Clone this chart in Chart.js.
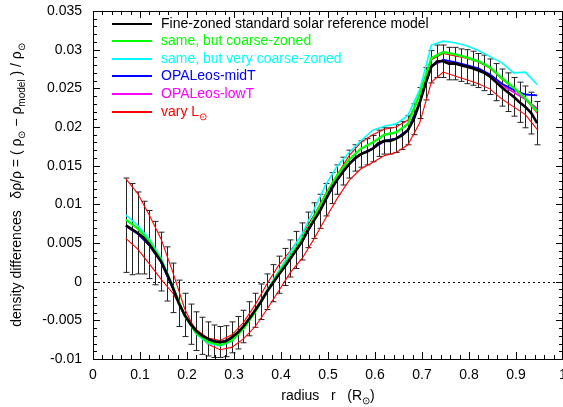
<!DOCTYPE html>
<html>
<head>
<meta charset="utf-8">
<script src="https://cdn.jsdelivr.net/npm/chart.js@4.4.0/dist/chart.umd.min.js"></script>
<style>
html, body { margin: 0; padding: 0; overflow: hidden; background: #fff; }
#wrap { width: 566px; height: 407px; }
</style>
</head>
<body>
<div id="wrap"><canvas id="myChart"></canvas></div>
<script>
// radius grid of the reference model (with error bars)
const rFine = [0.07, 0.0825, 0.095, 0.1075, 0.12, 0.1325, 0.145, 0.1575, 0.17, 0.1825,
  0.195, 0.2075, 0.22, 0.2325, 0.245, 0.2575, 0.27, 0.2825, 0.295, 0.3075,
  0.32, 0.3325, 0.345, 0.3575, 0.37, 0.3825, 0.395, 0.4075, 0.42, 0.4325,
  0.445, 0.4575, 0.47, 0.4825, 0.495, 0.5075, 0.52, 0.5325, 0.545, 0.5575,
  0.57, 0.5825, 0.595, 0.6075, 0.62, 0.6325, 0.645, 0.6575, 0.67, 0.6825,
  0.695, 0.7075, 0.72, 0.7325, 0.745, 0.7575, 0.77, 0.7825, 0.795, 0.8075,
  0.82, 0.8325, 0.845, 0.8575, 0.87, 0.8825, 0.895, 0.9075, 0.92, 0.9325, 0.945];

const fineModel = [0.0073, 0.0068, 0.0063, 0.0057, 0.0048, 0.0037, 0.0026, 0.0010, -0.0008, -0.0028,
  -0.0043, -0.0055, -0.0064, -0.0070, -0.0074, -0.0077, -0.0078, -0.0077, -0.0072, -0.0066,
  -0.0058, -0.0048, -0.0037, -0.0026, -0.0013, -0.0002, 0.0009, 0.0019, 0.0030, 0.0041,
  0.0052, 0.0067, 0.0079, 0.0091, 0.0106, 0.0121, 0.0132, 0.0143, 0.0152, 0.0160,
  0.0165, 0.0168, 0.0172, 0.0179, 0.0182, 0.0182, 0.0185, 0.0189, 0.0196, 0.0210,
  0.0231, 0.0256, 0.0278, 0.0285, 0.0285, 0.0282, 0.0282, 0.0280, 0.0278, 0.0276,
  0.0273, 0.0270, 0.0265, 0.0258, 0.0251, 0.0245, 0.0239, 0.0232, 0.0226, 0.0218, 0.0205];

const fineErr = [0.0061, 0.0059, 0.0053, 0.0047, 0.0044, 0.0041, 0.0038, 0.0035, 0.0032, 0.0030,
  0.0028, 0.0026, 0.0025, 0.0024, 0.0022, 0.0021, 0.0020, 0.0020, 0.0020, 0.0021,
  0.0021, 0.0022, 0.0022, 0.0023, 0.0023, 0.0024, 0.0024, 0.0024, 0.0024, 0.0024,
  0.0024, 0.0023, 0.0023, 0.0022, 0.0021, 0.0020, 0.0019, 0.0018, 0.0018, 0.0017,
  0.0017, 0.0017, 0.0017, 0.0017, 0.0017, 0.0017, 0.0018, 0.0018, 0.0019, 0.0020,
  0.0020, 0.0021, 0.0021, 0.0021, 0.0021, 0.0021, 0.0021, 0.0021, 0.0022, 0.0022,
  0.0022, 0.0023, 0.0023, 0.0024, 0.0024, 0.0025, 0.0025, 0.0026, 0.0027, 0.0027, 0.0028];

// coarser radius grid for the comparison models
const rCoarse = [0.07, 0.095, 0.12, 0.145, 0.17, 0.195, 0.22, 0.245, 0.27, 0.295,
  0.32, 0.345, 0.37, 0.395, 0.42, 0.445, 0.47, 0.495, 0.52, 0.545,
  0.57, 0.595, 0.62, 0.645, 0.67, 0.695, 0.72, 0.745, 0.77, 0.795,
  0.82, 0.845, 0.87, 0.895, 0.92, 0.945];

const coarseZoned = [0.0080, 0.0069, 0.0052, 0.0028, -0.0007, -0.0044, -0.0067, -0.0078, -0.0082, -0.0076,
  -0.0061, -0.0039, -0.0013, 0.0011, 0.0033, 0.0056, 0.0083, 0.0112, 0.0138, 0.0158,
  0.0172, 0.0180, 0.0190, 0.0193, 0.0204, 0.0242, 0.0289, 0.0297, 0.0294, 0.0290,
  0.0285, 0.0277, 0.0263, 0.0251, 0.0237, 0.0220];

const veryCoarseZoned = [0.0086, 0.0073, 0.0055, 0.0030, -0.0006, -0.0044, -0.0068, -0.0080, -0.0083, -0.0077,
  -0.0061, -0.0038, -0.0011, 0.0014, 0.0038, 0.0062, 0.0093, 0.0125, 0.0150, 0.0167,
  0.0182, 0.0196, 0.0201, 0.0204, 0.0215, 0.0248, 0.0306, 0.0311, 0.0309, 0.0305,
  0.0299, 0.0291, 0.0283, 0.0270, 0.0271, 0.0255];

const opalMidT = [0.0072, 0.0062, 0.0047, 0.0025, -0.0009, -0.0044, -0.0065, -0.0075, -0.0079, -0.0073,
  -0.0058, -0.0037, -0.0013, 0.0009, 0.0030, 0.0052, 0.0079, 0.0106, 0.0132, 0.0152,
  0.0165, 0.0172, 0.0182, 0.0185, 0.0196, 0.0232, 0.0279, 0.0287, 0.0284, 0.0280,
  0.0276, 0.0268, 0.0256, 0.0248, 0.0242, 0.0241];

const opalLowT = [0.0072, 0.0062, 0.0047, 0.0025, -0.0009, -0.0044, -0.0065, -0.0075, -0.0079, -0.0073,
  -0.0058, -0.0037, -0.0013, 0.0009, 0.0030, 0.0052, 0.0079, 0.0106, 0.0132, 0.0152,
  0.0165, 0.0172, 0.0182, 0.0185, 0.0196, 0.0232, 0.0279, 0.0286, 0.0283, 0.0279,
  0.0275, 0.0267, 0.0254, 0.0245, 0.0236, 0.0224];

const varyL_a = [0.0133, 0.0114, 0.0086, 0.0055, 0.0012, -0.0035, -0.0066, -0.0081, -0.0088, -0.0085,
  -0.0074, -0.0058, -0.0036, -0.0012, 0.0012, 0.0030, 0.0055, 0.0082, 0.0108, 0.0131,
  0.0146, 0.0154, 0.0163, 0.0167, 0.0177, 0.0205, 0.0258, 0.0271, 0.0266, 0.0261,
  0.0256, 0.0249, 0.0236, 0.0226, 0.0216, 0.0197];

const varyL_b = [0.0056, 0.0042, 0.0023, 0.0003, -0.0015, -0.0042, -0.0062, -0.0073, -0.0076, -0.0069,
  -0.0053, -0.0030, -0.0003, 0.0021, 0.0040, 0.0061, 0.0086, 0.0114, 0.0139, 0.0163,
  0.0180, 0.0190, 0.0197, 0.0200, 0.0209, 0.0240, 0.0287, 0.0295, 0.0292, 0.0289,
  0.0284, 0.0276, 0.0262, 0.0250, 0.0236, 0.0218];

const xTickLabels = ['0', '0.1', '0.2', '0.3', '0.4', '0.5', '0.6', '0.7', '0.8', '0.9', '1'];
const yTickLabels = ['-0.01', '-0.005', '0', '0.005', '0.01', '0.015', '0.02', '0.025', '0.03', '0.035'];

const seriesLabels = ['Fine-zoned standard solar reference model', 'same, but coarse-zoned',
  'same, but very coarse-zoned', 'OPALeos-midT', 'OPALeos-lowT', 'vary L'];

const FONT = '"Liberation Sans", Arial, Helvetica, sans-serif';

function pts(xs, ys) {
  return xs.map((x, i) => ({ x: x, y: ys[i] }));
}

// width of text with subscripts: parts = [[text, isSub], ...]
function richWidth(ctx, parts) {
  let total = 0;
  parts.forEach(p => {
    ctx.font = (p[1] ? 10 : 14) + 'px ' + FONT;
    total += ctx.measureText(p[0]).width;
  });
  return total;
}
function drawRich(ctx, parts, x, y, color, centered) {
  const w = richWidth(ctx, parts);
  let cx = centered ? x - w / 2 : x;
  ctx.fillStyle = color;
  ctx.textBaseline = 'middle';
  ctx.textAlign = 'left';
  parts.forEach(p => {
    ctx.font = (p[1] ? 10 : 14) + 'px ' + FONT;
    ctx.fillText(p[0], cx, p[1] ? y + 5 : y);
    cx += ctx.measureText(p[0]).width;
  });
}

const errorBars = {
  id: 'errorBars',
  beforeDatasetsDraw(chart) {
    const { ctx, scales: { x, y } } = chart;
    ctx.save();
    ctx.strokeStyle = '#222';
    ctx.lineWidth = 1;
    rFine.forEach((r, i) => {
      const px = Math.round(x.getPixelForValue(r)) + 0.5;
      const top = y.getPixelForValue(fineModel[i] + fineErr[i]);
      const bot = y.getPixelForValue(fineModel[i] - fineErr[i]);
      ctx.beginPath();
      ctx.moveTo(px, top); ctx.lineTo(px, bot);
      ctx.moveTo(px - 3, top); ctx.lineTo(px + 3, top);
      ctx.moveTo(px - 3, bot); ctx.lineTo(px + 3, bot);
      ctx.stroke();
    });
    ctx.restore();
  }
};

const frame = {
  id: 'frame',
  beforeDatasetsDraw(chart) {
    const { ctx, chartArea: a, scales: { y } } = chart;
    ctx.save();
    // dotted zero line
    const y0 = Math.round(y.getPixelForValue(0)) + 0.5;
    ctx.strokeStyle = '#000';
    ctx.lineWidth = 1;
    ctx.setLineDash([2, 3]);
    ctx.beginPath();
    ctx.moveTo(a.left, y0); ctx.lineTo(a.right, y0);
    ctx.stroke();
    ctx.restore();
  },
  afterDatasetsDraw(chart) {
    const { ctx, chartArea: a, scales: { x, y } } = chart;
    ctx.save();
    ctx.strokeStyle = '#000';
    ctx.lineWidth = 1;
    ctx.strokeRect(a.left + 0.5, a.top + 0.5, a.right - a.left - 1, a.bottom - a.top);
    ctx.beginPath();
    // inward ticks, major + minor, on all four sides
    for (let i = 0; i <= 50; i++) {
      const px = Math.round(x.getPixelForValue(i / 50)) + 0.5;
      const len = i % 5 === 0 ? 7 : 4;
      ctx.moveTo(px, a.bottom); ctx.lineTo(px, a.bottom - len);
      ctx.moveTo(px, a.top); ctx.lineTo(px, a.top + len);
    }
    for (let i = -10; i <= 35; i++) {
      const py = Math.round(y.getPixelForValue(i / 1000)) + 0.5;
      const len = i % 5 === 0 ? 7 : 4;
      ctx.moveTo(a.left, py); ctx.lineTo(a.left + len, py);
      ctx.moveTo(a.right, py); ctx.lineTo(a.right - len, py);
    }
    ctx.stroke();

    // legend
    const colors = ['#000000', '#00ff00', '#00ffff', '#0000ff', '#ff00ff', '#ff0000'];
    seriesLabels.forEach((lab, i) => {
      const ly = Math.round(a.top + 12.5 + i * 17.6);
      ctx.strokeStyle = colors[i];
      ctx.lineWidth = 2;
      ctx.beginPath();
      ctx.moveTo(a.left + 19, ly); ctx.lineTo(a.left + 59, ly);
      ctx.stroke();
      const parts = i === 5 ? [[lab, false], ['\u2299', true]] : [[lab, false]];
      drawRich(ctx, parts, a.left + 68, ly, colors[i], false);
    });

    // axis titles
    drawRich(ctx, [['radius   r   (R', false], ['\u2299', true], [')', false]],
      (a.left + a.right) / 2, 396, '#000', true);
    ctx.translate(17, (a.top + a.bottom) / 2);
    ctx.rotate(-Math.PI / 2);
    drawRich(ctx, [['density differences   \u03b4\u03c1/\u03c1 = ( \u03c1', false], ['\u2299', true],
      [' \u2212 \u03c1', false], ['model', true], [' ) / \u03c1', false], ['\u2299', true]],
      0, 0, '#000', true);
    ctx.restore();
  }
};

const ctx = document.getElementById('myChart').getContext('2d');

const myChart = new Chart(ctx, {
  type: 'line',
  data: {
    datasets: [
      { label: seriesLabels[0], data: pts(rFine, fineModel), borderColor: '#000000', borderWidth: 2.6 },
      { label: seriesLabels[1], data: pts(rCoarse, coarseZoned), borderColor: '#00ff00', borderWidth: 2.4 },
      { label: seriesLabels[2], data: pts(rCoarse, veryCoarseZoned), borderColor: '#00ffff', borderWidth: 1.6 },
      { label: seriesLabels[3], data: pts(rCoarse, opalMidT), borderColor: '#0000ff', borderWidth: 1.8 },
      { label: seriesLabels[4], data: pts(rCoarse, opalLowT), borderColor: '#ff00ff', borderWidth: 1.8 },
      { label: seriesLabels[5], data: pts(rCoarse, varyL_a), borderColor: '#ff0000', borderWidth: 1.1 },
      { label: seriesLabels[5], data: pts(rCoarse, varyL_b), borderColor: '#ff0000', borderWidth: 1.1 }
    ]
  },
  options: {
    responsive: true,
    maintainAspectRatio: false,
    animation: false,
    layout: { padding: { top: 11, right: 3, left: 0, bottom: 0 } },
    elements: { point: { radius: 0 }, line: { tension: 0, fill: false } },
    scales: {
      x: {
        type: 'linear', min: 0, max: 1,
        ticks: {
          stepSize: 0.1, padding: 8, color: '#000', maxRotation: 0, autoSkip: false,
          font: { family: FONT, size: 14 },
          callback: (v, i) => xTickLabels[i]
        },
        grid: { display: false, drawTicks: false },
        border: { display: false },
        afterFit: s => { s.height = 48; s.paddingLeft = 0; s.paddingRight = 0; }
      },
      y: {
        min: -0.01, max: 0.035,
        ticks: {
          stepSize: 0.005, padding: 11, color: '#000', autoSkip: false,
          font: { family: FONT, size: 14 },
          callback: (v, i) => yTickLabels[i]
        },
        grid: { display: false, drawTicks: false },
        border: { display: false },
        afterFit: s => { s.width = 93; s.paddingTop = 0; s.paddingBottom = 0; }
      }
    },
    plugins: {
      legend: { display: false },
      tooltip: { enabled: false }
    }
  },
  plugins: [frame, errorBars]
});
</script>
</body>
</html>
